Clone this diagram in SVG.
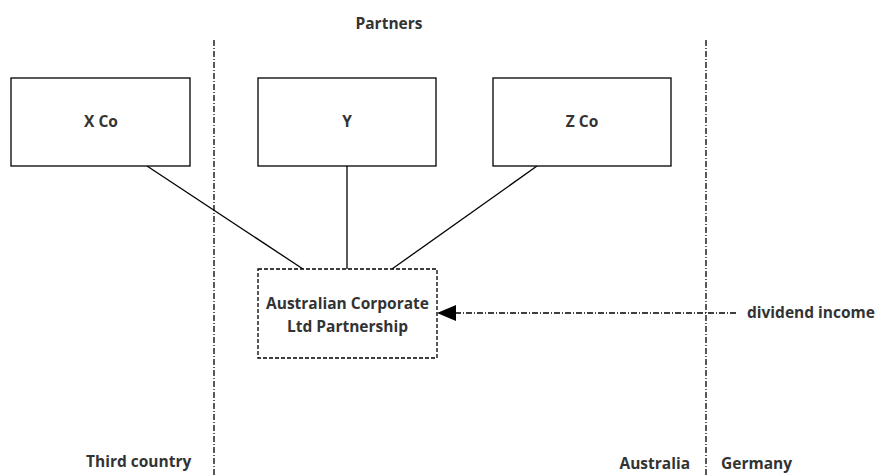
<svg xmlns="http://www.w3.org/2000/svg" width="878" height="476" viewBox="0 0 878 476">
  <style>
    .lbl { font-family: "Open Sans", "Noto Sans", "Liberation Sans", sans-serif; font-weight: bold; font-size: 15.5px; fill: #333333; }
    .box { fill: #ffffff; stroke: #000000; stroke-width: 1.3; }
    .dbox { fill: #ffffff; stroke: #000000; stroke-width: 1.3; stroke-dasharray: 4 2; }
    .link { stroke: #000000; stroke-width: 1.3; fill: none; }
    .border { stroke: #000000; stroke-width: 1.3; fill: none; stroke-dasharray: 6 2 1 2; }
    .flow { stroke: #000000; stroke-width: 1.3; fill: none; stroke-dasharray: 6 2 1 2; }
  </style>
  <rect width="878" height="476" fill="#ffffff"/>

  <!-- jurisdiction borders -->
  <g id="borders">
    <line class="border" x1="214" y1="40" x2="214" y2="476"/>
    <line class="border" x1="706" y1="40" x2="706" y2="476"/>
  </g>

  <!-- connectors -->
  <g id="connectors">
    <line class="link" x1="147" y1="166" x2="303" y2="269"/>
    <line class="link" x1="347" y1="166" x2="347" y2="269"/>
    <line class="link" x1="537" y1="166" x2="392" y2="269"/>
    <line class="flow" x1="736" y1="313" x2="456" y2="313"/>
    <path d="M437,313 L456,305 L456,321 Z" fill="#000000"/>
  </g>

  <g id="xco">
    <rect class="box" x="11" y="78" width="179" height="88"/>
    <text class="lbl" x="101" y="127" text-anchor="middle">X Co</text>
  </g>
  <g id="y">
    <rect class="box" x="258" y="78" width="178" height="88"/>
    <text class="lbl" x="347" y="127" text-anchor="middle">Y</text>
  </g>
  <g id="zco">
    <rect class="box" x="493" y="78" width="178" height="88"/>
    <text class="lbl" x="582" y="127" text-anchor="middle">Z Co</text>
  </g>
  <g id="partnership">
    <rect class="dbox" x="258" y="269" width="179" height="89"/>
    <text class="lbl" x="347.5" y="309" text-anchor="middle">Australian Corporate</text>
    <text class="lbl" x="347.5" y="332" text-anchor="middle">Ltd Partnership</text>
  </g>

  <g id="labels">
    <text class="lbl" x="389" y="29" text-anchor="middle">Partners</text>
    <text class="lbl" x="747" y="318">dividend income</text>
    <text class="lbl" x="86" y="467">Third country</text>
    <text class="lbl" x="690" y="469" text-anchor="end">Australia</text>
    <text class="lbl" x="721" y="469">Germany</text>
  </g>
</svg>
